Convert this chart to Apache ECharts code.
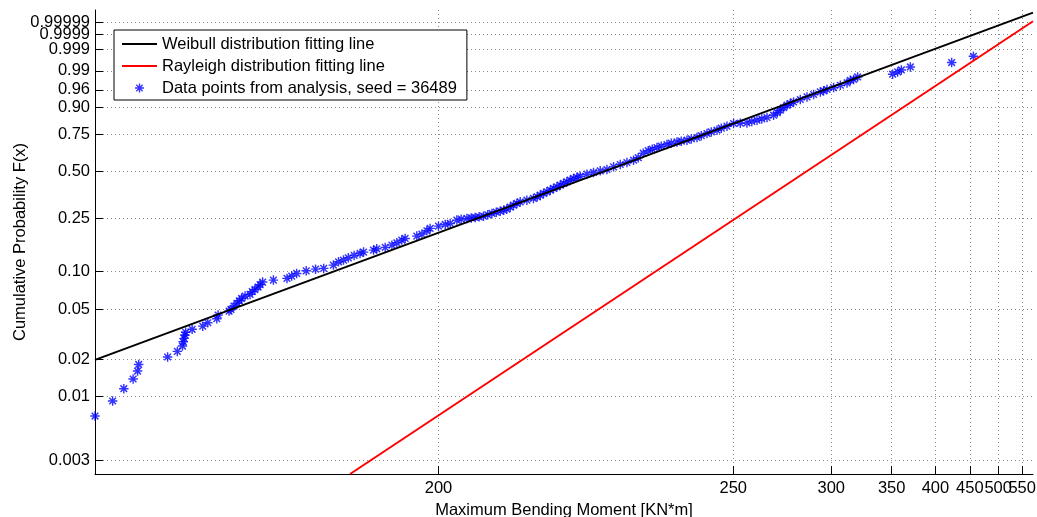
<!DOCTYPE html>
<html><head><meta charset="utf-8">
<script src="https://cdn.jsdelivr.net/npm/echarts@6/dist/echarts.min.js"></script>
<style>html,body{margin:0;padding:0;background:#fff}#chart{width:1037px;height:517px}</style>
</head><body><div id="chart"></div>
<script>
// ---- data (moment in kN*m, cumulative probability F) ----
const xTickLabels = [200, 250, 300, 350, 400, 450, 500, 550];
const yTickLabels = ['0.003','0.01','0.02','0.05','0.10','0.25','0.50','0.75','0.90','0.96','0.99','0.999','0.9999','0.99999'];
const xRange = [191.62, 575];
const yRange = [0.002317, 0.9999995];
const weibullMoment = [191.62, 575];
const weibullProb = [0.0197, 0.999999];
const rayleighMoment = [195.98, 575];
const rayleighProb = [0.002317, 0.999992];
const dataMoment = [191.62,191.75,191.84,191.92,191.96,191.97,192.26,192.37,192.43,192.44,192.45,192.46,192.47,192.55,192.69,192.76,192.89,192.91,193.08,193.11,
193.16,193.21,193.25,193.29,193.35,193.44,193.48,193.53,193.59,193.63,193.68,193.90,194.20,194.31,194.43,194.67,194.92,195.15,195.44,195.60,
195.76,195.92,196.12,196.33,196.46,196.84,196.97,197.32,197.61,197.83,198.06,198.22,198.80,199.07,199.34,199.52,200.00,200.41,200.72,201.15,
201.44,201.84,202.15,202.44,202.74,203.07,203.41,203.75,204.11,204.45,204.76,205.04,205.35,205.65,205.98,206.30,206.97,207.66,208.07,208.40,
208.77,209.16,209.55,209.94,210.36,210.77,211.19,211.63,212.07,212.52,212.99,213.46,214.44,215.44,216.50,217.61,218.75,219.95,221.20,222.49,
223.44,224.49,225.56,226.44,227.51,228.52,229.89,230.96,232.42,233.56,235.11,236.32,237.98,239.27,241.03,242.40,244.28,245.74,247.73,250.13,
252.67,255.32,257.29,259.49,261.58,263.92,267.00,268.78,270.26,271.91,273.66,275.38,277.14,280.83,284.68,288.63,292.81,294.94,297.17,301.65,
306.38,311.32,313.83,316.39,319.56,350.99,356.07,359.93,369.69,422.24,455.77];
const dataProb = [0.00689,0.00913,0.0115,0.0138,0.0160,0.0181,0.0208,0.0231,0.0255,0.0276,0.0294,0.0313,0.0329,0.0348,0.0369,0.0393,0.0423,0.0453,0.0487,0.0502,
0.0534,0.0561,0.0588,0.0615,0.0641,0.0661,0.0695,0.0721,0.0755,0.0789,0.0826,0.0856,0.0883,0.0920,0.0965,0.1011,0.1042,0.1056,0.1119,0.1187,
0.1223,0.1273,0.1328,0.1375,0.1407,0.1457,0.1490,0.1527,0.1588,0.1653,0.1731,0.1782,0.1853,0.1917,0.2027,0.2110,0.2192,0.2254,0.2292,0.2420,
0.2459,0.2488,0.2508,0.2528,0.2553,0.2582,0.2637,0.2697,0.2753,0.2797,0.2842,0.2888,0.2980,0.3075,0.3157,0.3236,0.3321,0.3408,0.3492,0.3582,
0.3675,0.3763,0.3858,0.3955,0.4047,0.4146,0.4246,0.4342,0.4446,0.4551,0.4620,0.4695,0.4823,0.4933,0.5037,0.5129,0.5302,0.5463,0.5598,0.5755,
0.5927,0.6238,0.6411,0.6515,0.6632,0.6722,0.6839,0.6927,0.7016,0.7064,0.7131,0.7219,0.7312,0.7431,0.7574,0.7677,0.7785,0.7909,0.8031,0.8191,
0.8209,0.8226,0.8306,0.8379,0.8451,0.8526,0.8645,0.8770,0.8888,0.9000,0.9105,0.9172,0.9233,0.9319,0.9405,0.9478,0.9550,0.9580,0.9610,0.9655,
0.9703,0.9746,0.9790,0.9801,0.9836,0.9868,0.9891,0.9908,0.9930,0.99544,0.99769];

// ---- probability-paper transforms (3-parameter Weibull paper) ----
const LOCATION = 190.5;
const tx = m => Math.log(m - LOCATION);
const ty = F => Math.log(-Math.log(1 - F));

const xTickVals = xTickLabels.map(tx);
const yTickVals = yTickLabels.map(s => ty(parseFloat(s)));
// labels are split over two co-located axes (even / odd) so that ECharts does not drop crowded ones
const evenOf = a => a.filter((_, i) => i % 2 === 0);
const oddOf = a => a.filter((_, i) => i % 2 === 1);
const pick = (vals, labels) => v => { const i = vals.findIndex(t => Math.abs(t - v) < 1e-6); return i >= 0 ? String(labels[i]) : ''; };

const FONT = '"Liberation Sans", Arial, Helvetica, sans-serif';
const FS = 16.5;
const ASTERISK = 'path://M0,4.25H10V5.75H0Z M4.25,0H5.75V10H4.25Z M0.95,2.05L2.05,0.95L9.05,7.95L7.95,9.05Z M7.95,0.95L9.05,2.05L2.05,9.05L0.95,7.95Z';
const gridLine = { show: true, lineStyle: { color: '#8a8a8a', width: 1, type: [1, 3] } };

const S_DATA = 'Data points from analysis, seed = 36489';
const S_WEI = 'Weibull distribution fitting line';
const S_RAY = 'Rayleigh distribution fitting line';

const labelStyle = { fontFamily: FONT, fontSize: FS, color: '#000', showMinLabel: true, showMaxLabel: true, hideOverlap: false };

function xAxisOf(vals, main) {
  return {
    type: 'value', min: tx(xRange[0]), max: tx(xRange[1]), position: 'bottom', offset: 0,
    name: main ? 'Maximum Bending Moment [KN*m]' : '', nameLocation: 'middle', nameGap: 19,
    nameTextStyle: { fontFamily: FONT, fontSize: FS, color: '#000' },
    axisLine: { show: main, onZero: false, lineStyle: { color: '#000', width: 1 } },
    axisTick: { show: main, inside: true, length: 8, customValues: xTickVals, lineStyle: { color: '#000' } },
    axisLabel: Object.assign({ show: true, margin: 6, customValues: vals, formatter: pick(xTickVals, xTickLabels) }, labelStyle),
    splitLine: main ? gridLine : { show: false }
  };
}
function yAxisOf(vals, main) {
  return {
    type: 'value', min: ty(yRange[0]), max: ty(yRange[1]), position: 'left', offset: 0,
    name: main ? 'Cumulative Probability F(x)' : '', nameLocation: 'middle', nameGap: 61,
    nameTextStyle: { fontFamily: FONT, fontSize: FS, color: '#000' },
    axisLine: { show: main, onZero: false, lineStyle: { color: '#000', width: 1 } },
    axisTick: { show: main, inside: true, length: 8, customValues: yTickVals, lineStyle: { color: '#000' } },
    axisLabel: Object.assign({ show: true, margin: 5, customValues: vals, formatter: pick(yTickVals, yTickLabels) }, labelStyle),
    splitLine: main ? gridLine : { show: false }
  };
}

const chart = echarts.init(document.getElementById('chart'), null, { renderer: 'canvas' });
chart.setOption({
  animation: false,
  backgroundColor: '#ffffff',
  textStyle: { fontFamily: FONT },
  grid: { left: 95, right: 4, top: 10, bottom: 43, containLabel: false, outerBoundsMode: 'none' },
  legend: {
    orient: 'vertical', left: 114, top: 30,
    data: [
      { name: S_WEI, itemStyle: { opacity: 0 } },
      { name: S_RAY, itemStyle: { opacity: 0 } },
      { name: S_DATA }
    ],
    itemWidth: 35, itemHeight: 9, itemGap: 2,
    padding: [4, 10, 2, 7],
    backgroundColor: '#ffffff', borderColor: '#000000', borderWidth: 1, borderRadius: 0,
    selectedMode: false,
    textStyle: { fontFamily: FONT, fontSize: FS, color: '#000', lineHeight: 20 }
  },
  xAxis: [xAxisOf(evenOf(xTickVals), true), xAxisOf(oddOf(xTickVals), false)],
  yAxis: [yAxisOf(evenOf(yTickVals), true), yAxisOf(oddOf(yTickVals), false)],
  series: [
    {
      name: S_DATA, type: 'scatter', z: 2,
      symbol: ASTERISK, symbolSize: 9.5, symbolKeepAspect: true,
      itemStyle: { color: '#0000ff' },
      data: dataMoment.map((m, i) => [tx(m), ty(dataProb[i])])
    },
    {
      name: S_WEI, type: 'line', z: 3, symbol: 'none', clip: true,
      lineStyle: { color: '#000000', width: 2 }, itemStyle: { color: '#000000' },
      data: weibullMoment.map((m, i) => [tx(m), ty(weibullProb[i])])
    },
    {
      name: S_RAY, type: 'line', z: 3, symbol: 'none', clip: true,
      lineStyle: { color: '#ff0000', width: 2 }, itemStyle: { color: '#ff0000' },
      data: rayleighMoment.map((m, i) => [tx(m), ty(rayleighProb[i])])
    }
  ]
});
</script></body></html>
